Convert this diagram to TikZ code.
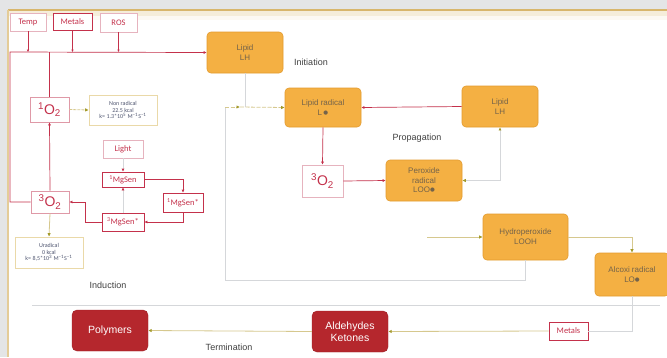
\documentclass[tikz,border=0pt]{standalone}
\usepackage{fontspec}
\setmainfont{Liberation Sans}
\newfontfamily\carl{Carlito}
\newfontfamily\dejavu{DejaVu Sans}
\usetikzlibrary{arrows.meta}
\definecolor{bgc}{HTML}{E4E5E6}
\definecolor{frame}{HTML}{D8B66C}
\definecolor{ofill}{HTML}{F4B043}
\definecolor{oborder}{HTML}{E39B2E}
\definecolor{otext}{HTML}{74634A}
\definecolor{dred}{HTML}{B5272D}
\definecolor{dredb}{HTML}{9E1F24}
\definecolor{crim}{HTML}{C4314B}
\definecolor{pinkb}{HTML}{E6B3BE}
\definecolor{tline}{HTML}{D6C88E}
\definecolor{olive}{HTML}{A39A2A}
\definecolor{gline}{HTML}{D5D7DA}
\definecolor{notetx}{HTML}{4F5570}
\definecolor{noteb}{HTML}{EAD9A8}
\newcommand{\bul}{\raisebox{1pt}{\dejavu\fontsize{5.5}{5.5}\selectfont ●}}
\begin{document}
\begin{tikzpicture}[x=1pt,y=-1pt,
  obox/.style={draw=oborder,fill=ofill,rounded corners=4pt,align=center,text=otext,
    font=\fontsize{8}{10}\selectfont,inner sep=1pt,line width=0.6pt},
  rbox/.style={draw=dredb,fill=dred,rounded corners=5pt,align=center,text=white,
    font=\fontsize{10.5}{12}\selectfont,inner sep=1pt,minimum width=76pt,minimum height=41pt},
  pbox/.style={draw=pinkb,fill=white,align=center,text=crim,font=\carl\fontsize{8.5}{9}\selectfont,
    inner sep=1pt,line width=0.6pt},
  pboxd/.style={pbox,draw=crim},
  oxy/.style={draw=pinkb!80!crim,fill=white,text=crim,font=\fontsize{14}{14}\selectfont,inner sep=1pt,line width=0.7pt},
  notebox/.style={draw=noteb,fill=white,align=center,text=notetx,font=\carl\fontsize{6}{6.6}\selectfont,inner sep=1pt,line width=0.6pt},
  lbl/.style={text=black!75,font=\fontsize{9}{10}\selectfont,inner sep=0pt},
  rarr/.style={draw=crim,line width=0.7pt,-{Latex[length=3pt,width=3pt]}},
  rline/.style={draw=crim,line width=0.7pt},
  tarr/.style={draw=tline,line width=0.8pt,-{Latex[length=3.5pt,width=3.5pt,color=olive]}},
  tline2/.style={draw=tline,line width=0.8pt},
  garr/.style={draw=gline,line width=0.8pt},
]
\useasboundingbox (0,0) rectangle (667,357);
\fill[bgc] (0,0) rectangle (667,357);
\fill[white] (8,10) rectangle (667,357);
\fill[frame!25] (8,11) rectangle (667,16);
\fill[white!60!frame!20] (8,16) rectangle (667,20);
\draw[frame,line width=2pt] (8,10) -- (667,10);
\draw[frame!70,line width=1.2pt] (8,10) -- (8,357);

% ---- top inputs ----
\node[pbox,minimum width=36pt,minimum height=18pt] (temp) at (28,22) {Temp};
\node[pboxd,minimum width=39pt,minimum height=17pt] (met1) at (72.5,21.5) {Metals};
\node[pbox,minimum width=37pt,minimum height=19pt] (ros) at (118.5,22.5) {ROS};

\node[obox,minimum width=76pt,minimum height=41pt] (lh1) at (245,52.5) {Lipid\\LH};
\node[lbl] (init) at (311,62) {Initiation};

% ---- induction ----
\node[oxy,minimum width=39pt,minimum height=25pt] (o1) at (49.5,109.5) {\textsuperscript{1}O\textsubscript{2}};
\node[notebox,minimum width=68pt,minimum height=30pt] (nonrad) at (123,110) {Non radical\\22.5 kcal\\k= 1.3*10\textsuperscript{5} M\textsuperscript{−1}S\textsuperscript{−1}};
\node[pbox,minimum width=40pt,minimum height=18pt] (light) at (123,149) {Light};
\node[pboxd,minimum width=42pt,minimum height=15pt] (mg1) at (123,179.5) {\textsuperscript{1}MgSen};
\node[pboxd,minimum width=40pt,minimum height=19pt] (mg2) at (183,202.5) {\textsuperscript{1}MgSen*};
\node[pboxd,minimum width=42pt,minimum height=18pt] (mg3) at (123,222) {\textsuperscript{3}MgSen*};
\node[oxy,minimum width=38pt,minimum height=22pt] (o3) at (50,202) {\textsuperscript{3}O\textsubscript{2}};
\node[notebox,minimum width=68pt,minimum height=31pt] (urad) at (49,252.5) {Uradical\\0 kcal\\k= 8,5*10\textsuperscript{3} M\textsuperscript{−1}S\textsuperscript{−1}};
\node[lbl] (induc) at (108,285) {Induction};

\coordinate (tl) at (10,52);
\coordinate (bl) at (10,202);
\draw[rarr] (o3.west) -- (bl) -- (tl) -- (lh1.west);
\foreach \n in {temp,met1,ros} \draw[rarr,-{Latex[length=2.5pt,width=2.5pt]}] (\n.south) -- (\n.south |- tl);
\draw[rline] (o1.north |- tl) -- (o1.north);
\draw[rarr] (o3.north) -- (o1.south);
\draw[tarr,dash pattern=on 3pt off 1pt] (o1.east) -- (nonrad.west);
\draw[garr,-{Latex[length=3pt,width=3pt,color=crim]}] (light.south) -- (mg1.north);
\draw[rarr] (mg1.east) -| (mg2.north);
\draw[rarr] (mg2.south) |- (mg3.east);
\draw[garr,-{Latex[length=3pt,width=3pt,color=crim]}] (mg3.north) -- (mg1.south);
\draw[rarr] (mg3.west) -- ++(-16,0) |- (o3.east);
\draw[tarr] (o3.south) -- (urad.north);

% ---- propagation ----
\node[obox,minimum width=76pt,minimum height=39pt] (lrad) at (323,107.5) {Lipid radical\\L\,\bul};
\node[obox,minimum width=76pt,minimum height=41pt] (lh2) at (500,106.5) {Lipid\\LH};
\node[oxy,draw=pinkb,minimum width=41pt,minimum height=32pt] (o3b) at (322.5,181) {\textsuperscript{3}O\textsubscript{2}};
\node[obox,minimum width=76pt,minimum height=41pt,font=\fontsize{8}{9.4}\selectfont] (perox) at (424,180.5) {Peroxide\\radical\\LOO\bul};
\node[lbl] (prop) at (417,138) {Propagation};
\node[obox,minimum width=85pt,minimum height=46pt] (hyd) at (525.5,237) {Hydroperoxide\\LOOH};
\node[obox,minimum width=74pt,minimum height=43pt] (alc) at (632,274.5) {Alcoxi radical\\LO\bul};

\coordinate (lp) at (225,107);
\coordinate (lq) at (240,107);
\coordinate (lin) at (427,237);
\draw[garr] (hyd.south) -- (hyd.south |- 0,280) -- (225,280) -- (lp);
\draw[garr] (lh1.south) -- (lh1.south |- lp);
\draw[tarr,dash pattern=on 4pt off 1.5pt] (lp) -- (lq);
\draw[tarr,dash pattern=on 4pt off 1.5pt] (lq) -- (lrad.west);
\draw[rarr] (lh2.west) -- (lrad.east);
\draw[rarr] (lrad.south) -- (o3b.north);
\draw[rarr] (o3b.east) -- (perox.west);
\draw[draw=gline,line width=0.8pt,{Latex[length=3pt,width=3pt,color=olive]}-{Latex[length=3.5pt,width=3.5pt,color=olive]}] (lh2.south) |- (perox.east);
\draw[tarr] (lin) -- (hyd.west);
\draw[tarr] (hyd.east) -| (alc.north);

% ---- termination ----
\draw[gline,line width=1pt] (32,305) -- (660,305);
\node[rbox] (poly) at (110,330.5) {Polymers};
\node[rbox] (ald) at (350,331.5) {Aldehydes\\Ketones};
\node[pboxd,minimum width=39pt,minimum height=18pt] (met2) at (568.5,331) {Metals};
\node[lbl] (term) at (229,347) {Termination};
\draw[tline2,draw=gline] (alc.south) |- (met2.east);
\draw[tarr] (met2.west) -- (ald.east);
\draw[tarr] (ald.west) -- (poly.east);
\end{tikzpicture}
\end{document}
